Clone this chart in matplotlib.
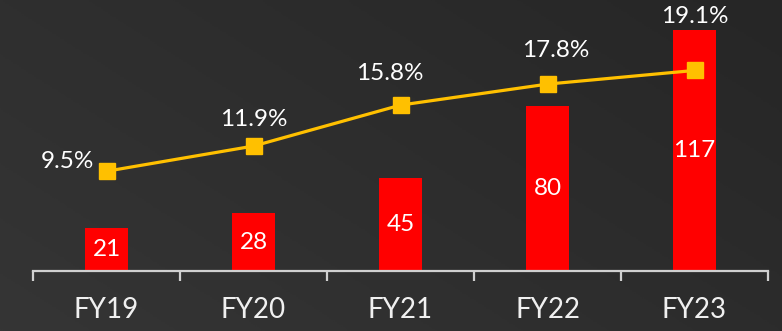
import numpy as np
import matplotlib
matplotlib.use("Agg")
import matplotlib.pyplot as plt
from matplotlib.colors import LinearSegmentedColormap

plt.rcParams['font.family'] = ['Lato', 'DejaVu Sans']

years = ["FY19", "FY20", "FY21", "FY22", "FY23"]
revenue = [21, 28, 45, 80, 117]
margin_pct = [9.5, 11.9, 15.8, 17.8, 19.1]

# label offsets (points) for the percentage annotations
pct_offsets = [(-28, 7), (0, 19), (-8, 23), (6, 24), (0, 39)]

W, H, DPI = 782, 331, 100
fig = plt.figure(figsize=(W / DPI, H / DPI), dpi=DPI)

# diagonal dark background gradient
bg = fig.add_axes([0, 0, 1, 1])
yy, xx = np.mgrid[0:1:200j, 0:1:400j]
grad = (xx * 0.6 + (1 - yy) * 0.4)
cmap = LinearSegmentedColormap.from_list("bg", ["#353535", "#262626"])
bg.imshow(grad, cmap=cmap, aspect="auto", extent=[0, 1, 0, 1], origin="upper")
bg.set_axis_off()

ax = fig.add_axes([33 / W, 60 / H, 735 / W, 266 / H])
ax.patch.set_alpha(0)
x = np.arange(len(years))
bars = ax.bar(x, revenue, width=0.29, color="#FF0000", zorder=2)
ax.set_xlim(-0.5, len(years) - 0.5)
ax.set_ylim(0, 266 / 2.06)

for xi, v in zip(x, revenue):
    ax.text(xi, v / 2, f"{v}", ha="center", va="center", color="white",
            fontsize=17.5, zorder=3)

for s in ["top", "right", "left"]:
    ax.spines[s].set_visible(False)
ax.spines["bottom"].set_color("#d0d0d0")
ax.spines["bottom"].set_linewidth(1.6)
ax.set_yticks([])
ax.set_xticks(x)
ax.set_xticklabels(years, fontsize=20, color="#f0f0f0")
ax.tick_params(axis="x", which="major", length=0, pad=19)
ax.set_xticks(np.arange(-0.5, len(years)), minor=True)
ax.tick_params(axis="x", which="minor", length=7, width=1.6, color="#d0d0d0",
               direction="out")

ax2 = ax.twinx()
ax2.set_ylim(0, 266 / 10.5)
ax2.plot(x, margin_pct, color="#FFC000", lw=2.3, marker="s", markersize=11,
         zorder=4)
for xi, v, off in zip(x, margin_pct, pct_offsets):
    ax2.annotate(f"{v}%", (xi, v), xytext=off, textcoords="offset points",
                 ha="center", va="center", color="white", fontsize=17.5)
ax2.set_yticks([])
for s in ax2.spines.values():
    s.set_visible(False)

fig.savefig("out.png", dpi=DPI)
